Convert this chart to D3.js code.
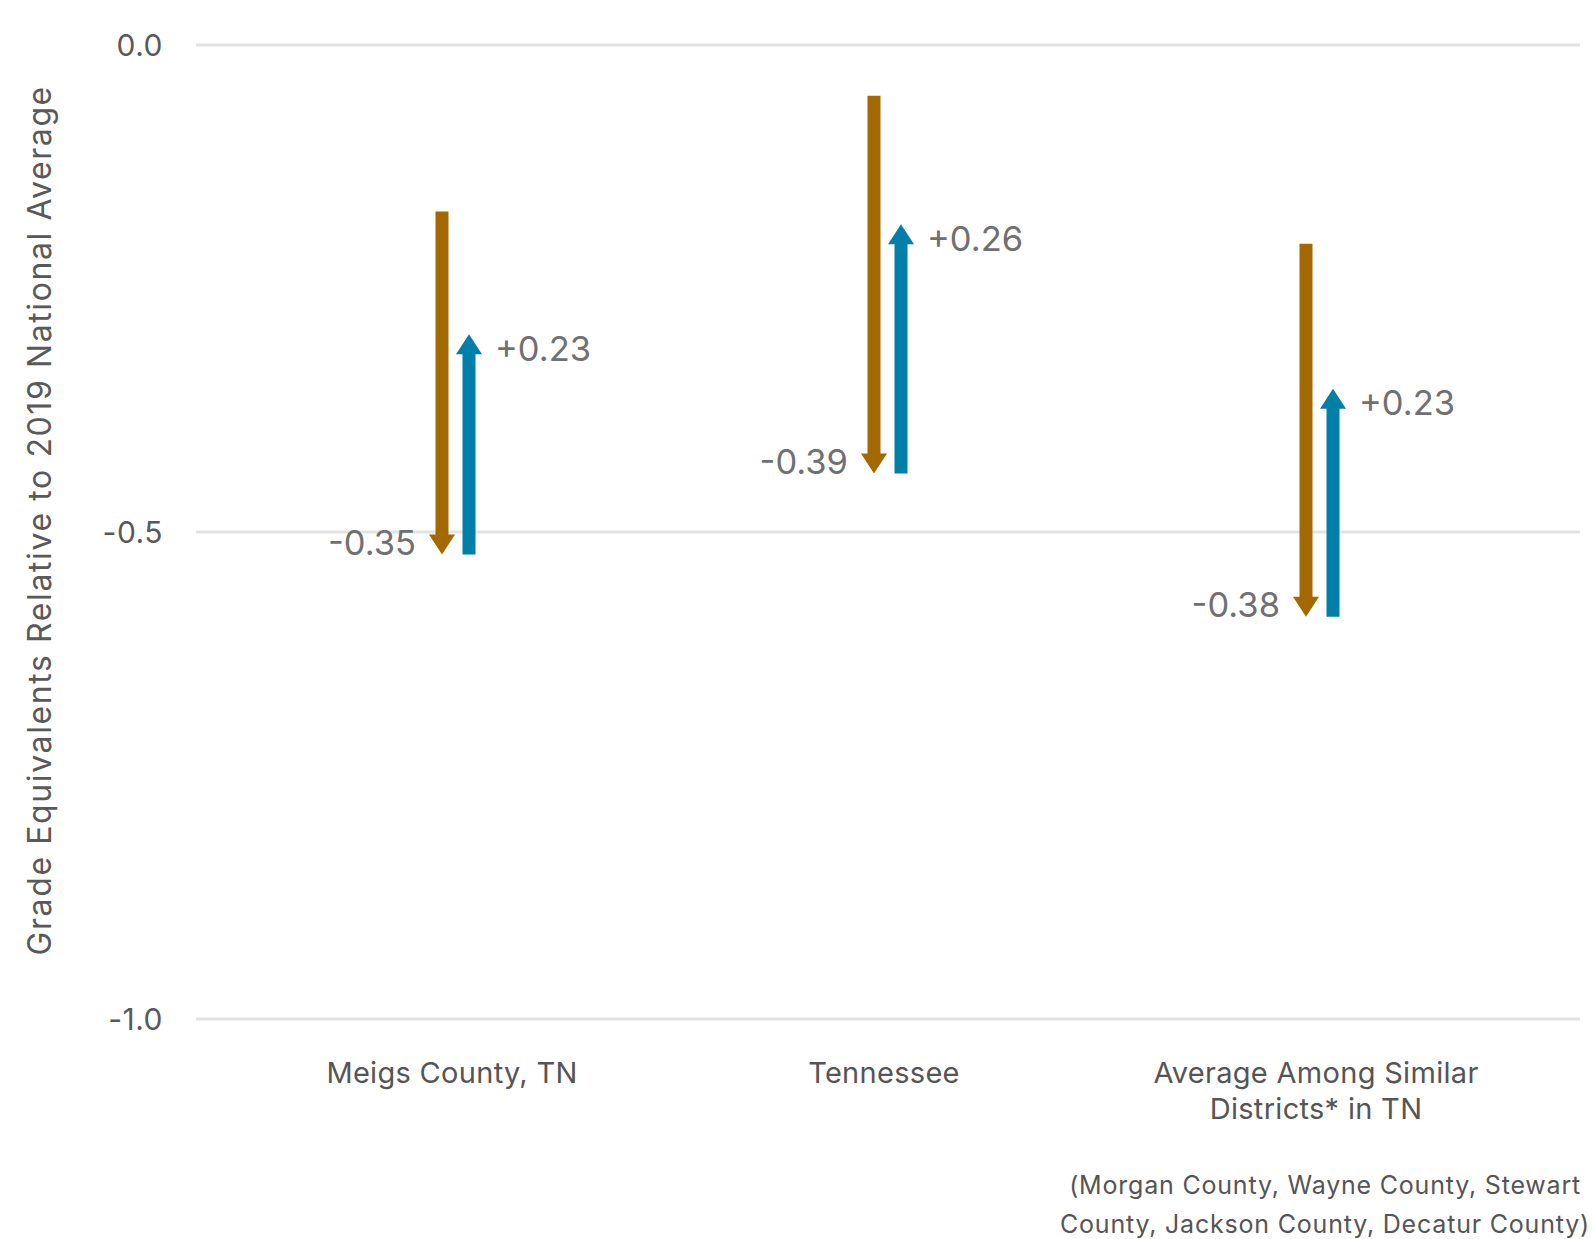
<!DOCTYPE html>
<html>
<head>
<meta charset="utf-8">
<script src="https://cdn.jsdelivr.net/npm/d3@7"></script>
<style>
  body { margin: 0; background: #fff; }
  text { font-family: Inter, "Noto Sans", sans-serif; }
</style>
</head>
<body>
<svg></svg>
<script>
const categories = ['Meigs County, TN', 'Tennessee', 'Average Among Similar Districts* in TN'];
const categoryLines = [['Meigs County, TN'], ['Tennessee'], ['Average Among Similar', 'Districts* in TN']];
const startValues = [-0.171, -0.052, -0.204];
const declines = [-0.352, -0.388, -0.383];
const recoveries = [0.226, 0.256, 0.234];
const yTicks = [0, -0.5, -1.0];
const yTickLabels = ['0.0', '-0.5', '-1.0'];
const footnote = ['(Morgan County, Wayne County, Stewart', 'County, Jackson County, Decatur County)'];

const WIDTH = 1593;
const HEIGHT = 1239;
const BROWN = '#a36800';
const BLUE = '#007fa8';

const rows = categories.map((c, i) => ({
  cat: c,
  lines: categoryLines[i],
  start: startValues[i],
  mid: startValues[i] + declines[i],
  end: startValues[i] + declines[i] + recoveries[i],
  decline: declines[i],
  recovery: recoveries[i]
}));

const x = d3.scaleBand().domain(categories).range([236, 1532]);
const y = d3.scaleLinear().domain([-1, 0]).range([1019, 45]);
const cx = c => x(c) + x.bandwidth() / 2;

const fmt = v => (v > 0 ? '+' : '-') + Math.abs(v).toFixed(2);

const svg = d3.select('svg').attr('width', WIDTH).attr('height', HEIGHT);

// gridlines
svg.append('g')
  .selectAll('line')
  .data(yTicks)
  .enter()
  .append('line')
  .attr('x1', 196)
  .attr('x2', 1580)
  .attr('y1', d => y(d))
  .attr('y2', d => y(d))
  .attr('stroke', '#e3e3e3')
  .attr('stroke-width', 3);

svg.append('g')
  .selectAll('text')
  .data(yTicks)
  .enter()
  .append('text')
  .text((d, i) => yTickLabels[i])
  .attr('x', 163)
  .attr('y', d => y(d))
  .attr('dominant-baseline', 'central')
  .attr('text-anchor', 'end')
  .attr('font-size', 30)
  .attr('letter-spacing', 0.5)
  .attr('fill', '#595959');

// axis title
svg.append('text')
  .text('Grade Equivalents Relative to 2019 National Average')
  .attr('transform', 'translate(39,' + (y(-0.488)) + ') rotate(-90)')
  .attr('text-anchor', 'middle')
  .attr('dominant-baseline', 'central')
  .attr('font-size', 32)
  .attr('letter-spacing', 1.6)
  .attr('fill', '#595959');

// arrows
const BAR_W = 13;
const HEAD_W = 26;
const HEAD_H = 20;

function arrowPath(xc, yFrom, yTo) {
  const dir = yTo > yFrom ? 1 : -1;
  const yb = yTo - dir * HEAD_H;
  return d3.line()([
    [xc - BAR_W / 2, yFrom],
    [xc + BAR_W / 2, yFrom],
    [xc + BAR_W / 2, yb],
    [xc + HEAD_W / 2, yb],
    [xc, yTo],
    [xc - HEAD_W / 2, yb],
    [xc - BAR_W / 2, yb]
  ]) + 'Z';
}

const chart = svg.append('g');

chart.selectAll('.down')
  .data(rows)
  .enter()
  .append('path')
  .classed('down', true)
  .attr('d', d => arrowPath(cx(d.cat) - 10, y(d.start), y(d.mid)))
  .attr('fill', BROWN);

chart.selectAll('.up')
  .data(rows)
  .enter()
  .append('path')
  .classed('up', true)
  .attr('d', d => arrowPath(cx(d.cat) + 17, y(d.mid), y(d.end)))
  .attr('fill', BLUE);

chart.selectAll('.downLabel')
  .data(rows)
  .enter()
  .append('text')
  .classed('downLabel', true)
  .text(d => fmt(d.decline))
  .attr('x', d => cx(d.cat) - 10 - 26)
  .attr('y', d => y(d.mid) - 12)
  .attr('text-anchor', 'end')
  .attr('dominant-baseline', 'central')
  .attr('font-family', '"Liberation Sans", Arial, sans-serif')
  .attr('font-size', 34.5)
  .attr('fill', '#707070');

chart.selectAll('.upLabel')
  .data(rows)
  .enter()
  .append('text')
  .classed('upLabel', true)
  .text(d => fmt(d.recovery))
  .attr('x', d => cx(d.cat) + 17 + 26)
  .attr('y', d => y(d.end) + 14)
  .attr('text-anchor', 'start')
  .attr('dominant-baseline', 'central')
  .attr('font-family', '"Liberation Sans", Arial, sans-serif')
  .attr('font-size', 34.5)
  .attr('fill', '#707070');

// category labels
const catLabels = svg.append('g')
  .selectAll('text')
  .data(rows)
  .enter()
  .append('text')
  .attr('x', d => cx(d.cat))
  .attr('y', 1083)
  .attr('text-anchor', 'middle')
  .attr('font-size', 29)
  .attr('letter-spacing', 0.3)
  .attr('fill', '#555');

catLabels.selectAll('tspan')
  .data(d => d.lines.map(l => ({ l, xc: cx(d.cat) })))
  .enter()
  .append('tspan')
  .attr('x', d => d.xc)
  .attr('dy', (d, i) => i === 0 ? 0 : 36)
  .text(d => d.l);

// footnote
svg.append('text')
  .attr('text-anchor', 'end')
  .attr('font-size', 25)
  .attr('letter-spacing', 0.8)
  .attr('fill', '#555')
  .selectAll('tspan')
  .data(footnote)
  .enter()
  .append('tspan')
  .attr('x', (d, i) => i === 0 ? 1581 : 1590)
  .attr('y', (d, i) => 1194 + i * 39)
  .text(d => d);
</script>
</body>
</html>
